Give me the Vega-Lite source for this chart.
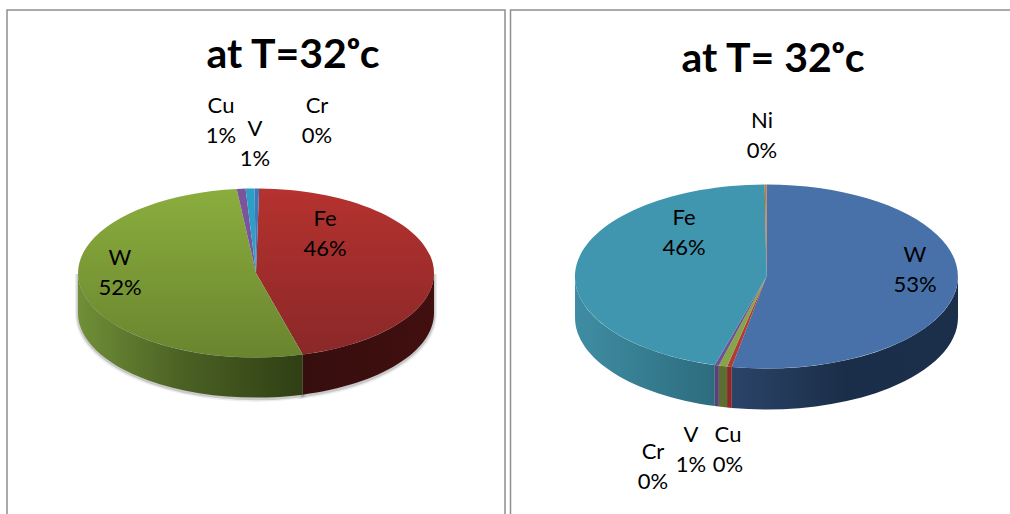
{
  "$schema": "https://vega.github.io/schema/vega-lite/v6.json",
  "background": "white",
  "padding": {"left": 6, "top": 9, "right": 0, "bottom": 0},
  "spacing": 3.5,
  "config": {
    "title": {"font": "Lato", "fontWeight": "bold", "fontSize": 41, "color": "#000000", "anchor": "middle"},
    "text": {"font": "Lato", "fontSize": 22, "lineHeight": 30, "color": "#000000", "baseline": "alphabetic", "align": "center"}
  },
  "datasets": {
    "alloyA": [
      {"element": "Fe", "pct": 45.5},
      {"element": "W", "pct": 52.49},
      {"element": "Cu", "pct": 0.8},
      {"element": "V", "pct": 0.8},
      {"element": "Cr", "pct": 0.41}
    ],
    "alloyB": [
      {"element": "W", "pct": 52.9},
      {"element": "Cu", "pct": 0.4},
      {"element": "V", "pct": 0.7},
      {"element": "Cr", "pct": 0.35},
      {"element": "Fe", "pct": 45.5},
      {"element": "Ni", "pct": 0.15}
    ]
  },
  "hconcat": [
    {
      "width": 498,
      "height": 506,
      "view": {"stroke": "#8f8f8f", "strokeWidth": 1.5, "fill": "white"},
      "title": {"text": "at T=32ᵒc", "offset": -67, "dx": 37},
      "data": {"name": "alloyA"},
      "transform": [
        {"stack": "pct", "groupby": [], "as": ["p0", "p1"]},
        {"calculate": "PI/180*(1+3.6*datum.p0)", "as": "t0"},
        {"calculate": "PI/180*(1+3.6*datum.p1)", "as": "t1"},
        {"calculate": "max(datum.t0,PI/2)", "as": "w0"},
        {"calculate": "min(datum.t1,3*PI/2)", "as": "w1"},
        {"calculate": "'M0,0L'+round(1e4*sin(datum.t0))/1e4+','+round(-1e4*0.475*cos(datum.t0))/1e4+'A1,0.475 0 '+(datum.t1-datum.t0>PI?1:0)+' 1 '+round(1e4*sin(datum.t1))/1e4+','+round(-1e4*0.475*cos(datum.t1))/1e4+'Z'", "as": "topPath"},
        {"calculate": "'M'+round(1e4*sin(datum.w0))/1e4+','+round(-1e4*0.475*cos(datum.w0))/1e4+'A1,0.475 0 0 1 '+round(1e4*sin(datum.w1))/1e4+','+round(-1e4*0.475*cos(datum.w1))/1e4+'L'+round(1e4*sin(datum.w1))/1e4+','+(round(-1e4*0.475*cos(datum.w1))/1e4+0.225)+'A1,0.475 0 0 0 '+round(1e4*sin(datum.w0))/1e4+','+(round(-1e4*0.475*cos(datum.w0))/1e4+0.225)+'Z'", "as": "wallPath"},
        {"calculate": "[datum.element, round(datum.pct)+'%']", "as": "label"}
      ],
      "layer": [
        {
          "transform": [{"filter": "datum.w1>datum.w0"}],
          "mark": {"type": "point", "filled": false, "size": 126736, "yOffset": 11, "stroke": "#777777", "strokeWidth": 6, "opacity": 0.12},
          "encoding": {"shape": {"field": "wallPath", "type": "nominal", "scale": null, "legend": null}}
        },
        {
          "transform": [{"filter": "datum.w1>datum.w0"}],
          "mark": {"type": "point", "filled": false, "size": 126736, "yOffset": 11, "stroke": "#777777", "strokeWidth": 3, "opacity": 0.3},
          "encoding": {"shape": {"field": "wallPath", "type": "nominal", "scale": null, "legend": null}}
        },
        {
          "transform": [{"filter": "datum.element==='Fe'"}],
          "mark": {"type": "point", "filled": true, "size": 126736, "yOffset": 10, "opacity": 1,
            "fill": {"gradient": "linear", "x1": 0, "y1": 0, "x2": 1, "y2": 0, "stops": [{"offset": 0, "color": "#360e0e"}, {"offset": 1, "color": "#420f0f"}]}},
          "encoding": {"shape": {"field": "wallPath", "type": "nominal", "scale": null, "legend": null}}
        },
        {
          "transform": [{"filter": "datum.element==='W'"}],
          "mark": {"type": "point", "filled": true, "size": 126736, "yOffset": 10, "opacity": 1,
            "fill": {"gradient": "linear", "x1": 0, "y1": 0, "x2": 1, "y2": 0, "stops": [{"offset": 0, "color": "#708f38"}, {"offset": 0.45, "color": "#4c6224"}, {"offset": 1, "color": "#2f3f14"}]}},
          "encoding": {"shape": {"field": "wallPath", "type": "nominal", "scale": null, "legend": null}}
        },
        {
          "transform": [{"filter": "datum.element==='Fe'"}],
          "mark": {"type": "point", "filled": true, "size": 126736, "yOffset": 10, "opacity": 1,
            "fill": {"gradient": "linear", "x1": 0, "y1": 0, "x2": 0, "y2": 1, "stops": [{"offset": 0, "color": "#b5322f"}, {"offset": 1, "color": "#8a2828"}]}},
          "encoding": {"shape": {"field": "topPath", "type": "nominal", "scale": null, "legend": null}}
        },
        {
          "transform": [{"filter": "datum.element==='W'"}],
          "mark": {"type": "point", "filled": true, "size": 126736, "yOffset": 10, "opacity": 1,
            "fill": {"gradient": "linear", "x1": 0, "y1": 0, "x2": 0, "y2": 1, "stops": [{"offset": 0, "color": "#8bad3d"}, {"offset": 1, "color": "#69852f"}]}},
          "encoding": {"shape": {"field": "topPath", "type": "nominal", "scale": null, "legend": null}}
        },
        {
          "transform": [{"filter": "datum.pct<5"}],
          "mark": {"type": "point", "filled": true, "size": 126736, "yOffset": 10, "opacity": 1},
          "encoding": {
            "shape": {"field": "topPath", "type": "nominal", "scale": null, "legend": null},
            "fill": {"field": "element", "type": "nominal", "legend": null,
              "scale": {"domain": ["Cu", "V", "Cr"], "range": ["#7a559b", "#2e9fc4", "#3f77b8"]}}
          }
        },
        {"transform": [{"filter": "datum.element==='Cu'"}], "mark": {"type": "text", "xOffset": -35, "yOffset": -150.5}, "encoding": {"text": {"field": "label"}}},
        {"transform": [{"filter": "datum.element==='V'"}], "mark": {"type": "text", "xOffset": -1, "yOffset": -127.5}, "encoding": {"text": {"field": "label"}}},
        {"transform": [{"filter": "datum.element==='Cr'"}], "mark": {"type": "text", "xOffset": 61, "yOffset": -150.5}, "encoding": {"text": {"field": "label"}}},
        {"transform": [{"filter": "datum.element==='Fe'"}], "mark": {"type": "text", "xOffset": 69, "yOffset": -37.5}, "encoding": {"text": {"field": "label"}}},
        {"transform": [{"filter": "datum.element==='W'"}], "mark": {"type": "text", "xOffset": -136, "yOffset": 1.5}, "encoding": {"text": {"field": "label"}}}
      ]
    },
    {
      "width": 512,
      "height": 506,
      "view": {"stroke": "#8f8f8f", "strokeWidth": 1.5, "fill": "white"},
      "title": {"text": "at T= 32ᵒc", "offset": -71, "dx": 6.5},
      "data": {"name": "alloyB"},
      "transform": [
        {"stack": "pct", "groupby": [], "as": ["p0", "p1"]},
        {"calculate": "PI/180*(3.6*datum.p0)", "as": "t0"},
        {"calculate": "PI/180*(3.6*datum.p1)", "as": "t1"},
        {"calculate": "max(datum.t0,PI/2)", "as": "w0"},
        {"calculate": "min(datum.t1,3*PI/2)", "as": "w1"},
        {"calculate": "'M0,0L'+round(1e4*sin(datum.t0))/1e4+','+round(-1e4*0.48*cos(datum.t0))/1e4+'A1,0.48 0 '+(datum.t1-datum.t0>PI?1:0)+' 1 '+round(1e4*sin(datum.t1))/1e4+','+round(-1e4*0.48*cos(datum.t1))/1e4+'Z'", "as": "topPath"},
        {"calculate": "'M'+round(1e4*sin(datum.w0))/1e4+','+round(-1e4*0.48*cos(datum.w0))/1e4+'A1,0.48 0 0 1 '+round(1e4*sin(datum.w1))/1e4+','+round(-1e4*0.48*cos(datum.w1))/1e4+'L'+round(1e4*sin(datum.w1))/1e4+','+(round(-1e4*0.48*cos(datum.w1))/1e4+0.214)+'A1,0.48 0 0 0 '+round(1e4*sin(datum.w0))/1e4+','+(round(-1e4*0.48*cos(datum.w0))/1e4+0.214)+'Z'", "as": "wallPath"},
        {"calculate": "[datum.element, round(datum.pct)+'%']", "as": "label"}
      ],
      "resolve": {"scale": {"fill": "independent"}},
      "layer": [
        {
          "transform": [{"filter": "datum.element==='W'"}],
          "mark": {"type": "point", "filled": true, "size": 146689, "yOffset": 13.5, "opacity": 1,
            "fill": {"gradient": "linear", "x1": 0, "y1": 0, "x2": 1, "y2": 0, "stops": [{"offset": 0, "color": "#2a4468"}, {"offset": 0.5, "color": "#1b2e49"}, {"offset": 1, "color": "#1c2f4a"}]}},
          "encoding": {"shape": {"field": "wallPath", "type": "nominal", "scale": null, "legend": null}}
        },
        {
          "transform": [{"filter": "datum.element==='Fe'"}],
          "mark": {"type": "point", "filled": true, "size": 146689, "yOffset": 13.5, "opacity": 1,
            "fill": {"gradient": "linear", "x1": 0, "y1": 0, "x2": 1, "y2": 0, "stops": [{"offset": 0, "color": "#3f8da3"}, {"offset": 1, "color": "#2d6c7e"}]}},
          "encoding": {"shape": {"field": "wallPath", "type": "nominal", "scale": null, "legend": null}}
        },
        {
          "transform": [{"filter": "datum.element==='Cu'||datum.element==='V'||datum.element==='Cr'"}],
          "mark": {"type": "point", "filled": true, "size": 146689, "yOffset": 13.5, "opacity": 1},
          "encoding": {
            "shape": {"field": "wallPath", "type": "nominal", "scale": null, "legend": null},
            "fill": {"field": "element", "type": "nominal", "legend": null,
              "scale": {"domain": ["Cu", "V", "Cr"], "range": ["#8b2a28", "#5d6e32", "#5a4279"]}}
          }
        },
        {
          "mark": {"type": "point", "filled": true, "size": 146689, "yOffset": 13.5, "opacity": 1},
          "encoding": {
            "shape": {"field": "topPath", "type": "nominal", "scale": null, "legend": null},
            "fill": {
              "field": "element", "type": "nominal", "legend": null,
              "scale": {
                "domain": ["W", "Cu", "V", "Cr", "Fe", "Ni"],
                "range": ["#4771a8", "#b23b38", "#86a548", "#6f5293", "#4096ae", "#c9772e"]
              }
            }
          }
        },
        {"transform": [{"filter": "datum.element==='Ni'"}], "mark": {"type": "text", "xOffset": -4.5, "yOffset": -135.5}, "encoding": {"text": {"field": "label"}}},
        {"transform": [{"filter": "datum.element==='W'"}], "mark": {"type": "text", "xOffset": 148.5, "yOffset": -1.5}, "encoding": {"text": {"field": "label"}}},
        {"transform": [{"filter": "datum.element==='Fe'"}], "mark": {"type": "text", "xOffset": -82.5, "yOffset": -38.5}, "encoding": {"text": {"field": "label"}}},
        {"transform": [{"filter": "datum.element==='V'"}], "mark": {"type": "text", "xOffset": -75.5, "yOffset": 178.5}, "encoding": {"text": {"field": "label"}}},
        {"transform": [{"filter": "datum.element==='Cu'"}], "mark": {"type": "text", "xOffset": -38.5, "yOffset": 178.5}, "encoding": {"text": {"field": "label"}}},
        {"transform": [{"filter": "datum.element==='Cr'"}], "mark": {"type": "text", "xOffset": -113.5, "yOffset": 195.5}, "encoding": {"text": {"field": "label"}}}
      ]
    }
  ]
}
